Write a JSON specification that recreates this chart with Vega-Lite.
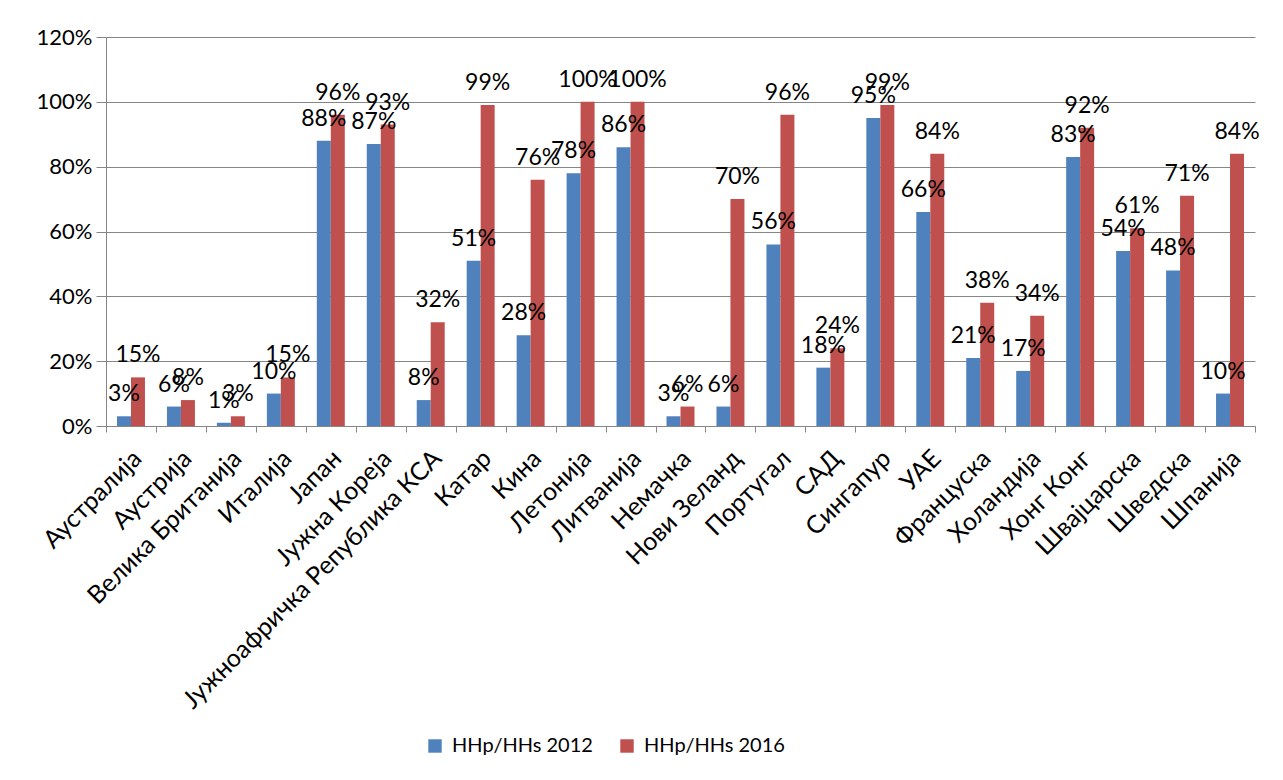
{
  "$schema": "https://vega.github.io/schema/vega-lite/v6.json",
  "width": 1149,
  "height": 389,
  "autosize": {"type": "none"},
  "padding": {"left": 106, "top": 37, "right": 28, "bottom": 354},
  "background": "white",
  "config": {
    "font": "Lato",
    "view": {"stroke": null},
    "axis": {"labelFont": "Lato", "labelColor": "#000000"}
  },
  "data": {
    "values": [
      {"country": "Аустралија", "series": "HHp/HHs 2012", "value": 0.03},
      {"country": "Аустралија", "series": "HHp/HHs 2016", "value": 0.15},
      {"country": "Аустрија", "series": "HHp/HHs 2012", "value": 0.06},
      {"country": "Аустрија", "series": "HHp/HHs 2016", "value": 0.08},
      {"country": "Велика Британија", "series": "HHp/HHs 2012", "value": 0.01},
      {"country": "Велика Британија", "series": "HHp/HHs 2016", "value": 0.03},
      {"country": "Италија", "series": "HHp/HHs 2012", "value": 0.10},
      {"country": "Италија", "series": "HHp/HHs 2016", "value": 0.15},
      {"country": "Јапан", "series": "HHp/HHs 2012", "value": 0.88},
      {"country": "Јапан", "series": "HHp/HHs 2016", "value": 0.96},
      {"country": "Јужна Кореја", "series": "HHp/HHs 2012", "value": 0.87},
      {"country": "Јужна Кореја", "series": "HHp/HHs 2016", "value": 0.93},
      {"country": "Јужноафричка Република КСА", "series": "HHp/HHs 2012", "value": 0.08},
      {"country": "Јужноафричка Република КСА", "series": "HHp/HHs 2016", "value": 0.32},
      {"country": "Катар", "series": "HHp/HHs 2012", "value": 0.51},
      {"country": "Катар", "series": "HHp/HHs 2016", "value": 0.99},
      {"country": "Кина", "series": "HHp/HHs 2012", "value": 0.28},
      {"country": "Кина", "series": "HHp/HHs 2016", "value": 0.76},
      {"country": "Летонија", "series": "HHp/HHs 2012", "value": 0.78},
      {"country": "Летонија", "series": "HHp/HHs 2016", "value": 1.00},
      {"country": "Литванија", "series": "HHp/HHs 2012", "value": 0.86},
      {"country": "Литванија", "series": "HHp/HHs 2016", "value": 1.00},
      {"country": "Немачка", "series": "HHp/HHs 2012", "value": 0.03},
      {"country": "Немачка", "series": "HHp/HHs 2016", "value": 0.06},
      {"country": "Нови Зеланд", "series": "HHp/HHs 2012", "value": 0.06},
      {"country": "Нови Зеланд", "series": "HHp/HHs 2016", "value": 0.70},
      {"country": "Португал", "series": "HHp/HHs 2012", "value": 0.56},
      {"country": "Португал", "series": "HHp/HHs 2016", "value": 0.96},
      {"country": "САД", "series": "HHp/HHs 2012", "value": 0.18},
      {"country": "САД", "series": "HHp/HHs 2016", "value": 0.24},
      {"country": "Сингапур", "series": "HHp/HHs 2012", "value": 0.95},
      {"country": "Сингапур", "series": "HHp/HHs 2016", "value": 0.99},
      {"country": "УАЕ", "series": "HHp/HHs 2012", "value": 0.66},
      {"country": "УАЕ", "series": "HHp/HHs 2016", "value": 0.84},
      {"country": "Француска", "series": "HHp/HHs 2012", "value": 0.21},
      {"country": "Француска", "series": "HHp/HHs 2016", "value": 0.38},
      {"country": "Холандија", "series": "HHp/HHs 2012", "value": 0.17},
      {"country": "Холандија", "series": "HHp/HHs 2016", "value": 0.34},
      {"country": "Хонг Конг", "series": "HHp/HHs 2012", "value": 0.83},
      {"country": "Хонг Конг", "series": "HHp/HHs 2016", "value": 0.92},
      {"country": "Швајцарска", "series": "HHp/HHs 2012", "value": 0.54},
      {"country": "Швајцарска", "series": "HHp/HHs 2016", "value": 0.61},
      {"country": "Шведска", "series": "HHp/HHs 2012", "value": 0.48},
      {"country": "Шведска", "series": "HHp/HHs 2016", "value": 0.71},
      {"country": "Шпанија", "series": "HHp/HHs 2012", "value": 0.10},
      {"country": "Шпанија", "series": "HHp/HHs 2016", "value": 0.84}
    ]
  },
  "encoding": {
    "x": {
      "field": "country",
      "type": "nominal",
      "sort": null,
      "scale": {"paddingInner": 0, "paddingOuter": 0},
      "axis": {
        "title": null,
        "labelAngle": -45,
        "labelAlign": "right",
        "labelBaseline": "middle",
        "labelFontSize": 25,
        "labelPadding": 22,
        "labelOffset": 6,
        "tickBand": "extent",
        "tickSize": 6,
        "tickColor": "#868686",
        "domainColor": "#868686",
        "labelLimit": 500
      }
    },
    "xOffset": {
      "field": "series",
      "type": "nominal",
      "scale": {"paddingInner": 0, "paddingOuter": 0.786}
    },
    "y": {
      "field": "value",
      "type": "quantitative",
      "scale": {"domain": [0, 1.2], "nice": false},
      "axis": {
        "title": null,
        "format": ".0%",
        "values": [0, 0.2, 0.4, 0.6, 0.8, 1.0, 1.2],
        "labelFontSize": 22,
        "labelPadding": 4,
        "tickSize": 10,
        "tickColor": "#868686",
        "domainColor": "#868686",
        "gridColor": "#868686",
        "grid": true
      }
    }
  },
  "layer": [
    {
      "mark": {"type": "bar"},
      "encoding": {
        "color": {
          "field": "series",
          "type": "nominal",
          "scale": {"domain": ["HHp/HHs 2012", "HHp/HHs 2016"], "range": ["#4F81BD", "#C0504D"]},
          "legend": {
            "title": null,
            "orient": "none",
            "direction": "horizontal",
            "legendX": 319,
            "legendY": 699,
            "symbolType": "square",
            "symbolSize": 180,
            "symbolStrokeWidth": 0,
            "labelFontSize": 20,
            "labelColor": "#000000",
            "columnPadding": 24,
            "labelOffset": 7
          }
        }
      }
    },
    {
      "mark": {"type": "text", "baseline": "alphabetic", "dy": -15, "fontSize": 23, "color": "#000000"},
      "encoding": {
        "text": {"field": "value", "type": "quantitative", "format": ".0%"}
      }
    }
  ]
}
